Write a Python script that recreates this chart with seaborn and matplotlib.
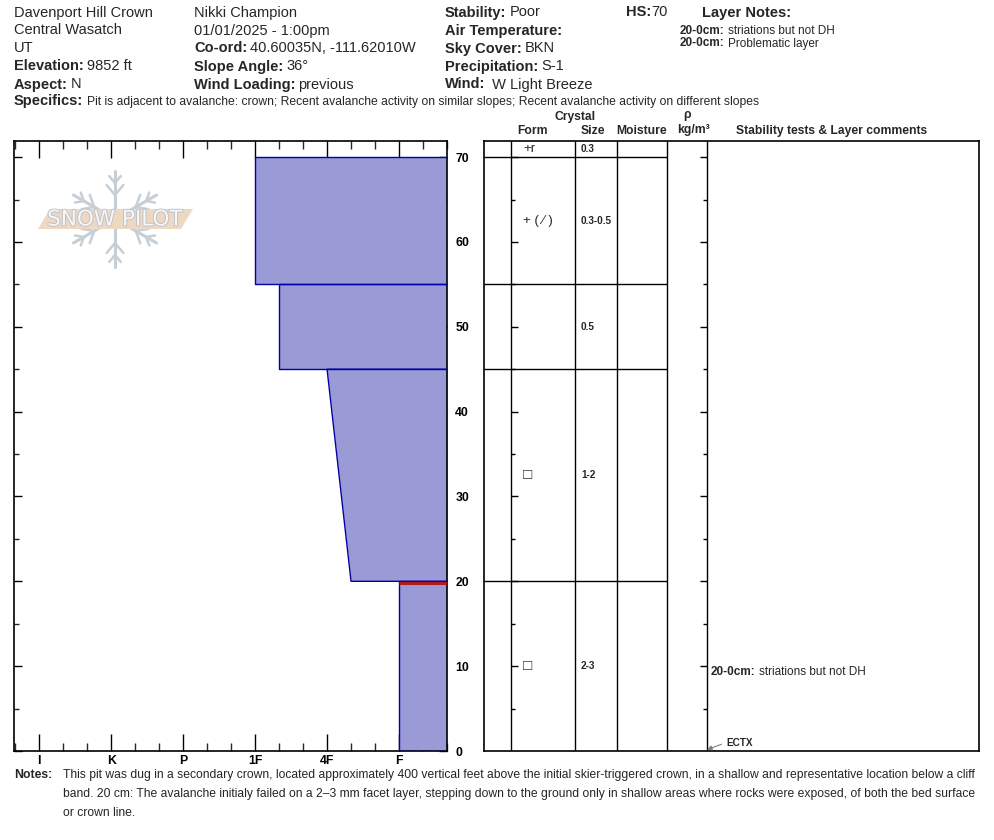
import numpy as np
import matplotlib
matplotlib.use("Agg")
import matplotlib.pyplot as plt
import matplotlib.font_manager as fm
import matplotlib.patheffects as pe
from matplotlib.patches import Polygon
import seaborn as sns

# ---- pit header ----
site_info = [("", "Davenport Hill Crown"), ("", "Central Wasatch"), ("", "UT"),
             ("Elevation:", "9852 ft"), ("Aspect:", "N")]
obs_info = [("", "Nikki Champion"), ("", "01/01/2025 - 1:00pm"),
            ("Co-ord:", "40.60035N, -111.62010W"), ("Slope Angle:", "36°"),
            ("Wind Loading:", "previous")]
cond_info = [("Stability:", "Poor"), ("Air Temperature:", ""), ("Sky Cover:", "BKN"),
             ("Precipitation:", "S-1"), ("Wind:", " W Light Breeze")]
hs = "70"
layer_notes = [("20-0cm:", "striations but not DH"), ("20-0cm:", "Problematic layer")]
specifics = ("Pit is adjacent to avalanche: crown; Recent avalanche activity on similar slopes; "
             "Recent avalanche activity on different slopes")
notes = ["This pit was dug in a secondary crown, located approximately 400 vertical feet above the initial "
         "skier-triggered crown, in a shallow and representative location below a cliff",
         "band. 20 cm: The avalanche initialy failed on a 2\u20133 mm facet layer, stepping down to the ground "
         "only in shallow areas where rocks were exposed, of both the bed surface",
         "or crown line."]

# ---- layers ----
layer_top = [70, 55, 45, 20]
layer_bottom = [55, 45, 20, 0]
hardness_top = ["1F", "1F-", "4F", "F"]
hardness_bottom = ["1F", "1F-", "4F-", "F"]
problem_depth = 20

# table rows: surface strip + layers
grain_form = ["+r", "+ ( \u2215 )", "", "\u25a1", "\u25a1"]
grain_size = ["0.3", "0.3-0.5", "0.5", "1-2", "2-3"]

hardness_labels = ["I", "K", "P", "1F", "4F", "F"]
depth_ticks = [0, 10, 20, 30, 40, 50, 60, 70]

comment_range = "20-0cm:"
comment_text = "striations but not DH"
comment_depth = 10
test_name = "ECTX"
test_depth = 0

# ---- style ----
sns.set_theme(style="ticks")
plt.rcParams["font.family"] = ["Liberation Sans", "DejaVu Sans"]
names = {f.name for f in fm.fontManager.ttflist}
narrow = "Liberation Sans Narrow" if "Liberation Sans Narrow" in names else "Liberation Sans"
nsize = 10 if narrow == "Liberation Sans Narrow" else 8.8

W, H = 994, 840
fig = plt.figure(figsize=(W / 100, H / 100), dpi=100)
fig.patch.set_facecolor("white")


def px_axes(x0, y0, x1, y1):
    return fig.add_axes([x0 / W, 1 - y1 / H, (x1 - x0) / W, (y1 - y0) / H])


HMAP = {"F": 1, "4F": 2, "1F": 3, "P": 4, "K": 5, "I": 6}


def hval(s):
    v = HMAP[s.rstrip("+-")]
    if s.endswith("-"):
        v -= 1 / 3
    elif s.endswith("+"):
        v += 1 / 3
    return v


ymax = 71.9
base_x = 1 / 3
fill_c = "#9a9ad6"
edge_c = "#0000a6"

# ---- hardness profile ----
ax = px_axes(14, 141, 447, 751)
for top, bot, ht, hb in zip(layer_top, layer_bottom, hardness_top, hardness_bottom):
    xt, xb = hval(ht), hval(hb)
    ax.fill_betweenx([top, bot], [xt, xb], base_x, color=fill_c, lw=0, zorder=2)
    sns.lineplot(x=[base_x, xt, xb, base_x], y=[top, top, bot, bot], sort=False,
                 estimator=None, color=edge_c, lw=1.0, ax=ax, zorder=3)

i_prob = layer_top.index(problem_depth)
ax.plot([hval(hardness_top[i_prob]), base_x], [problem_depth - 0.18] * 2,
        color="#b01c1c", lw=2.2, solid_capstyle="butt", zorder=4)

ax.set_xlim(6.35, base_x)
ax.set_ylim(0, ymax)
ax.set_xlabel("")
ax.set_ylabel("")
ax.set_xticks([hval(h) for h in hardness_labels])
ax.set_xticklabels(hardness_labels)
ax.set_xticks(np.arange(base_x, 6.35, 1 / 3), minor=True)
ax.set_yticks(depth_ticks)
ax.set_yticks([d + 5 for d in depth_ticks[:-1]], minor=True)
ax.tick_params(axis="x", which="major", direction="in", length=12, width=1,
               top=True, bottom=True, pad=3, colors="black")
ax.tick_params(axis="x", which="minor", direction="in", length=6, width=1,
               top=True, bottom=True)
ax.tick_params(axis="y", which="major", direction="in", length=5.5, width=1,
               left=True, right=True, labelleft=False, labelright=True, pad=6, colors="black")
ax.tick_params(axis="y", which="minor", direction="in", length=3.3, width=1,
               left=True, right=True)
for lab in ax.get_xticklabels() + ax.get_yticklabels():
    lab.set_fontfamily([narrow, "DejaVu Sans"])
    lab.set_fontweight("bold")
    lab.set_fontsize(nsize)
for sp in ax.spines.values():
    sp.set_visible(True)
    sp.set_color("black")
    sp.set_linewidth(1.2)
ax.patch.set_visible(False)

# ---- layer table ----
rax = px_axes(484, 141, 979, 751)
rax.set_xlim(0, 495)
rax.set_ylim(0, ymax)
rax.set_xticks([])
rax.set_yticks([])
for sp in rax.spines.values():
    sp.set_visible(True)
    sp.set_color("black")
    sp.set_linewidth(1.2)
for cx in [27, 91, 133, 183, 223]:
    rax.axvline(cx, color="black", lw=1.0)
for d in layer_top:
    rax.hlines(d, 0, 183, color="black", lw=1.0)
for d in range(5, 71, 5):
    L = 7 if d % 10 == 0 else 4
    rax.hlines(d, 27, 27 + L, color="black", lw=1.0)
    rax.hlines(d, 223 - L, 223, color="black", lw=1.0)

row_tops = [ymax] + layer_top
row_bots = [layer_top[0]] + layer_bottom
for t, b, frm, sz in zip(row_tops, row_bots, grain_form, grain_size):
    mid = (t + b) / 2
    if frm:
        fs = 11 if frm == "\u25a1" else 9.5
        rax.text(39, mid, frm, fontsize=fs, va="center", ha="left",
                 family=["Liberation Sans", "DejaVu Sans"])
    rax.text(97, mid, sz, fontsize=7.2, fontweight="bold", va="center", ha="left")

ct = rax.text(227, comment_depth, comment_range, fontsize=8.5, fontweight="bold",
              va="top", ha="left")
rax.annotate(comment_text, xy=(1, 0.5), xycoords=ct, xytext=(3, 0),
             textcoords="offset pixels", fontsize=8.5, va="center", ha="left")
rax.annotate(test_name, xy=(223, test_depth + 0.15), xytext=(242, test_depth + 1.0),
             fontsize=7.2, fontweight="bold", va="center", ha="left",
             arrowprops=dict(arrowstyle="-|>", color="#808080", lw=0.8, shrinkA=1,
                             shrinkB=0, mutation_scale=7, relpos=(0, 0.5)))

# ---- overlay for header, notes and logo ----
bg = fig.add_axes([0, 0, 1, 1], zorder=10)
bg.set_xlim(0, W)
bg.set_ylim(H, 0)
bg.axis("off")


def field(x, y, label, value, size=10.5, vsize=None, gap=3, family=None):
    fam = family or ["Liberation Sans", "DejaVu Sans"]
    if label:
        t = bg.text(x, y, label, fontsize=size, fontweight="bold", va="center",
                    ha="left", family=fam)
        if value:
            v = bg.annotate(value, xy=(1, 0.5), xycoords=t, xytext=(gap, 0),
                            textcoords="offset pixels", fontsize=vsize or size,
                            va="center", ha="left", family=fam)
            return v
        return t
    return bg.text(x, y, value, fontsize=vsize or size, va="center", ha="left", family=fam)


rows_y = [12.5, 30.5, 48.5, 66.5, 84.5]
for col_x, info in [(14, site_info), (194, obs_info), (445, cond_info)]:
    for y, (lab, val) in zip(rows_y, info):
        field(col_x, y, lab, val)
field(626, 12.5, "HS:", hs, gap=0)
field(702, 12.5, "Layer Notes:", "")
for y, (lab, val) in zip([30.5, 43.5], layer_notes):
    field(680, y, lab, val, size=8.5)
spec = field(14, 101.5, "Specifics:", specifics, vsize=8.5, gap=4)

# table header
hdr = dict(fontsize=8.7, fontweight="bold", va="center")
bg.text(575, 117, "Crystal", ha="center", **hdr)
bg.text(533, 131, "Form", ha="center", **hdr)
bg.text(593, 131, "Size", ha="center", **hdr)
bg.text(642, 131, "Moisture", ha="center", **hdr)
bg.text(687, 115, "\u03c1", ha="center", **hdr)
bg.text(693, 130, "kg/m\u00b3", ha="center", **hdr)
bg.text(832, 131, "Stability tests & Layer comments", ha="center", **hdr)

# notes
nfam = [narrow, "DejaVu Sans"]
bg.text(14, 775, "Notes:", fontsize=nsize, fontweight="bold", va="center", ha="left",
        family=nfam)
note_txt = [bg.text(63, y, line, fontsize=9, va="center", ha="left", family=nfam)
            for y, line in zip([775, 794.5, 813], notes)]

# snow pilot logo watermark
cx0, cy0, R = 115, 219, 48
flake = "#c6ced6"
for ang in [90, 30, 150, 210, 270, 330]:
    a = np.deg2rad(ang)
    dx, dy = np.cos(a), -np.sin(a)
    bg.plot([cx0, cx0 + R * dx], [cy0, cy0 + R * dy], color=flake, lw=2.2,
            solid_capstyle="round", zorder=1)
    for frac, blen in [(0.5, 13), (0.75, 9)]:
        px, py = cx0 + frac * R * dx, cy0 + frac * R * dy
        for side in (-1, 1):
            b = a + side * np.deg2rad(40)
            bg.plot([px, px + blen * np.cos(b)], [py, py - blen * np.sin(b)],
                    color=flake, lw=1.8, solid_capstyle="round", zorder=1)
bg.add_patch(Polygon([(38, 229), (50, 209), (193, 209), (181, 229)], closed=True,
                     facecolor="#eed8c2", edgecolor="none", zorder=2))
logo = bg.text(115, 219.5, "SNOW PILOT", fontsize=15.5, color="#f7f7f7", ha="center",
               va="center", zorder=3, family="DejaVu Sans")
logo.set_path_effects([pe.withStroke(linewidth=1.4, foreground="#bcc3ca")])

# fit long text runs to their widths in the reference
fig.canvas.draw()
renderer = fig.canvas.get_renderer()
w = note_txt[0].get_window_extent(renderer).width
ns = 9 * 912 / w
for t in note_txt:
    t.set_fontsize(ns)
w = spec.get_window_extent(renderer).width
spec.set_fontsize(8.5 * 672 / w)

fig.savefig("out.png", dpi=100)
